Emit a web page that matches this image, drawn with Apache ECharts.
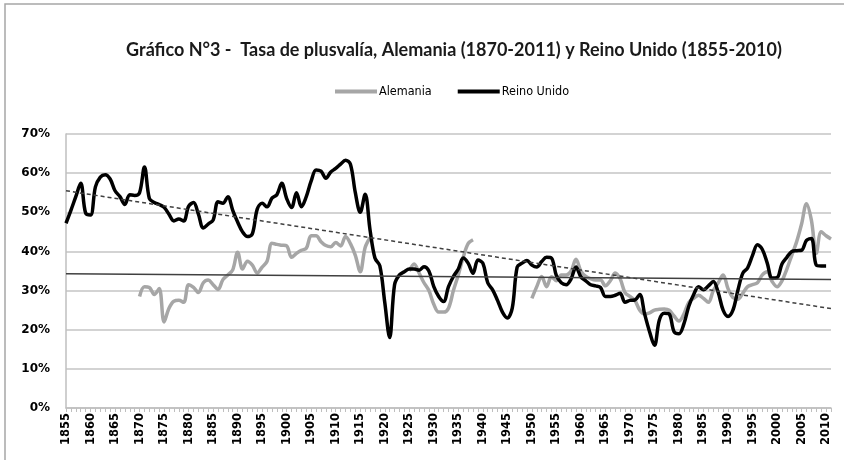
<!DOCTYPE html>
<html><head><meta charset="utf-8">
<script src="https://cdn.jsdelivr.net/npm/echarts@6/dist/echarts.min.js"></script>
<style>html,body{margin:0;padding:0;background:#fff}#c{width:844px;height:460px}</style>
</head><body><div id="c"></div>
<script>
// Categories: years 1855..2011
const firstYear = 1855, lastYear = 2011;
const years = [];
for (let y = firstYear; y <= lastYear; y++) years.push(String(y));

// Reino Unido 1855-2010 (%)
const ukStart = 1855;
const ukValues = [
  47.2, 50.5, 54, 57.4, 49.8, 49.3, 56.5, 59, 59.6, 58.5,
  55.5, 54, 52, 54.5, 54.3, 55, 61.6, 53.5, 52.5, 52,
  51.3, 49.5, 47.8, 48.3, 47.8, 51.5, 52.5, 49.5, 46, 47,
  48, 52.7, 52.3, 54, 50.5, 47.5, 45, 43.8, 44.5, 50.8,
  52.3, 51.4, 53.6, 54.5, 57.4, 53.5, 51.2, 55, 51.4, 54,
  58, 60.8, 60.5, 58.7, 60.3, 61.2, 62.3, 63.3, 62.3, 55,
  50, 54.6, 45.5, 38.3, 36.3, 27, 18, 31.5, 34, 34.8,
  35.5, 35.5, 35.2, 36.1, 35, 31, 28.5, 27.2, 31, 33.6,
  35.5, 38.3, 37, 34.4, 37.8, 37, 32, 30.2, 27.5, 24.5,
  23, 25.5, 36, 37, 37.7, 36.5, 36, 37.4, 38.5, 38.3,
  33.8, 32, 31.5, 33, 36, 33.5, 32.5, 31.5, 31.2, 30.8,
  28.5, 28.5, 28.8, 29.3, 27, 27.5, 27.6, 29, 24, 19.5,
  16, 22.5, 24.2, 24, 19.5, 19, 21.5, 26, 29, 31,
  30.2, 31.2, 32.3, 29.5, 25, 23.4, 25, 30, 34.4, 35.8,
  39, 41.7, 40.5, 37, 33.2, 33.3, 36.8, 38.5, 40, 40.2,
  40.3, 42.8, 43.3, 36.5, 36.3, 36.3
];

// Alemania, three stretches (%)
const deStart1 = 1870;
const deValues1 = [
  28.5, 31, 30.8, 29, 30.5, 22, 25.5, 27.3, 27.5, 27,
  31.5, 30.8, 29.5, 32, 32.7, 31.5, 30.3, 32.8, 34, 35.3,
  39.8, 35.5, 37.5, 36.5, 34.5, 36, 37.5, 42.1, 41.8, 41.6,
  41.4, 38.5, 39.5, 40.3, 40.8, 44, 44, 42.5, 41.5, 41.2,
  42.3, 41.4, 43.8, 42, 39, 34.8, 41, 43.5
];
const deStart2 = 1925;
const deValues2 = [35, 36.8, 34.5, 32, 30, 26.5, 24.5, 24.5, 25.5, 30, 34, 38.5, 42, 43];
const deStart3 = 1950;
const deValues3 = [
  28, 31, 33.6, 31, 33.5, 32.5, 34, 34, 35, 38,
  35, 33.6, 33, 32.7, 32.7, 31.2, 32.5, 34.5, 33, 29.5,
  28.5, 27.5, 25, 24, 24.3, 25, 25.2, 25.3, 25, 23.5,
  22.2, 24, 27, 28, 28.8, 28, 27, 30, 32, 34,
  30.5, 28.2, 27.8, 29.3, 31, 31.5, 32, 34, 34.8, 32.3,
  31, 32.5, 35.5, 39, 42.5, 47, 52.2, 48, 39.5, 45,
  44, 43.2
];

// Trend lines (endpoints)
const trendYears = ['1855', '2011'];
const ukTrend = [55.5, 25.4];
const deTrend = [34.3, 32.8];

// Y axis ticks
const yTicks = [0, 10, 20, 30, 40, 50, 60, 70];

function place(start, vals) {
  const arr = years.map(() => null);
  vals.forEach((v, i) => { arr[start - firstYear + i] = v; });
  return arr;
}
const uk = place(ukStart, ukValues);
const de = years.map(() => null);
[[deStart1, deValues1], [deStart2, deValues2], [deStart3, deValues3]].forEach(([s, v]) => {
  v.forEach((val, i) => { de[s - firstYear + i] = val; });
});

const chart = echarts.init(document.getElementById('c'), null, { renderer: 'canvas' });
chart.setOption({
  animation: false,
  backgroundColor: '#ffffff',
  title: {
    text: 'Gráfico N°3 -  Tasa de plusvalía, Alemania (1870-2011) y Reino Unido (1855-2010)',
    left: 449, top: 36, textAlign: 'center',
    textStyle: { fontFamily: 'Lato', fontWeight: 'bold', fontSize: 18, color: '#1a1a1a' }
  },
  legend: {
    data: ['Alemania', 'Reino Unido'],
    top: 80, left: 330,
    icon: 'rect', itemWidth: 42, itemHeight: 4, itemGap: 26,
    textStyle: { fontFamily: 'DejaVu Sans Condensed', fontSize: 12.5, color: '#000', padding: [0, 0, 0, -3] }
  },
  graphic: [{
    type: 'rect', shape: { x: 5, y: 4, width: 860, height: 480 },
    style: { fill: 'none', stroke: '#a6a6a6', lineWidth: 1.5 }, silent: true, z: -1
  }],
  grid: { left: 66, right: 13, top: 134, bottom: 52 },
  xAxis: {
    type: 'category', data: years, boundaryGap: false,
    axisLine: { lineStyle: { color: '#bfbfbf', width: 1.5 } },
    axisTick: { interval: 0, length: 4, lineStyle: { color: '#bfbfbf' } },
    axisLabel: { interval: 4, rotate: 90, margin: 5, fontFamily: 'DejaVu Sans', fontWeight: 'bold', fontSize: 11.5, color: '#000' },
    splitLine: { show: false }
  },
  yAxis: {
    type: 'value', min: yTicks[0], max: yTicks[yTicks.length - 1], interval: 10,
    axisLine: { show: true, lineStyle: { color: '#bfbfbf', width: 1.5 } },
    axisTick: { show: false },
    axisLabel: { formatter: '{value}%', margin: 16, fontFamily: 'DejaVu Sans', fontWeight: 'bold', fontSize: 12, color: '#000' },
    splitLine: { lineStyle: { color: '#c4c4c4', width: 1.5 } }
  },
  series: [
    { name: 'Alemania', type: 'line', data: de, smooth: 0.35, showSymbol: false, connectNulls: false,
      itemStyle: { color: '#a6a6a6' }, lineStyle: { color: '#a6a6a6', width: 3.5 } },
    { name: 'Reino Unido', type: 'line', data: uk, smooth: 0.35, showSymbol: false, connectNulls: false,
      itemStyle: { color: '#000' }, lineStyle: { color: '#000', width: 3.5 } },
    { name: 'Tendencia RU', type: 'line', data: trendYears.map((y, i) => [y, ukTrend[i]]), showSymbol: false,
      lineStyle: { color: '#404040', width: 1.5, type: [4, 3] } },
    { name: 'Tendencia Alemania', type: 'line', data: trendYears.map((y, i) => [y, deTrend[i]]), showSymbol: false,
      lineStyle: { color: '#404040', width: 1.5 } }
  ]
});
</script></body></html>
